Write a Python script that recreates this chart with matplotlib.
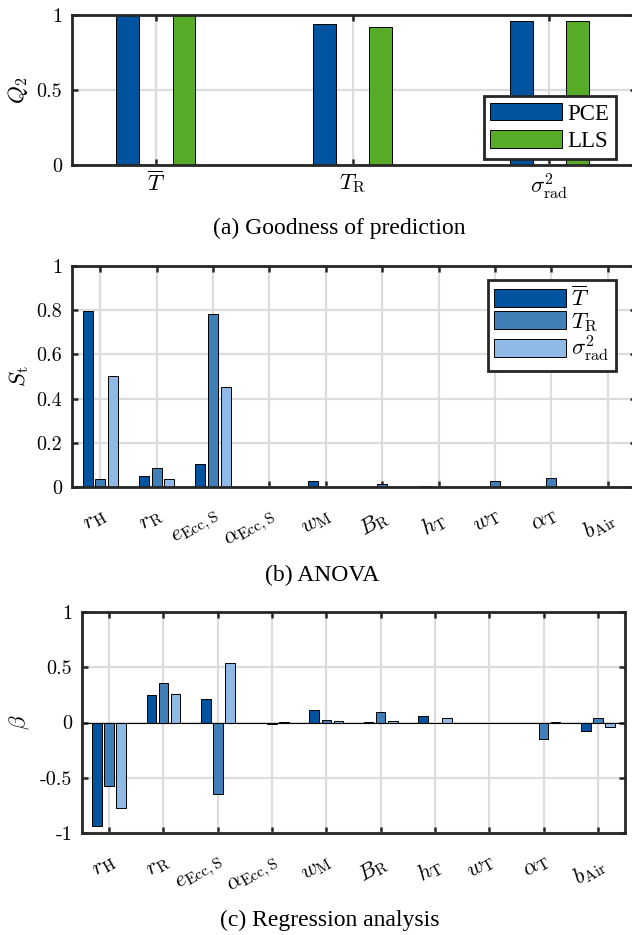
import numpy as np
import matplotlib
matplotlib.use('Agg')
import matplotlib.pyplot as plt
from matplotlib.transforms import ScaledTranslation

plt.rcParams['font.family'] = 'Liberation Serif'
plt.rcParams['mathtext.fontset'] = 'cm'

# (a) goodness of prediction
outputs = [r'$\overline{T}$', r'$T_\mathrm{R}$', r'$\sigma^2_\mathrm{rad}$']
q2_pce = [0.998, 0.940, 0.960]
q2_lls = [0.998, 0.922, 0.958]

# (b)/(c) input parameters
params = [r'$r_\mathrm{H}$', r'$r_\mathrm{R}$', r'$e_\mathrm{Ecc,S}$', r'$\alpha_\mathrm{Ecc,S}$',
          r'$w_\mathrm{M}$', r'$B_\mathrm{R}$', r'$h_\mathrm{T}$', r'$w_\mathrm{T}$',
          r'$\alpha_\mathrm{T}$', r'$b_\mathrm{Air}$']
out_labels = [r'$\overline{T}$', r'$T_\mathrm{R}$', r'$\sigma^2_\mathrm{rad}$']

# total Sobol indices
st_T = [0.795, 0.051, 0.106, 0.0, 0.029, 0.002, 0.004, 0.001, 0.001, 0.002]
st_TR = [0.038, 0.088, 0.785, 0.0, 0.001, 0.015, 0.0, 0.025, 0.040, 0.0]
st_sig = [0.502, 0.035, 0.453, 0.0, 0.0, 0.0, 0.0, 0.0, 0.0, 0.0]

# regression coefficients
beta_T = [-0.933, 0.245, 0.209, -0.003, 0.109, 0.009, 0.055, -0.003, -0.003, -0.076]
beta_TR = [-0.576, 0.360, -0.645, -0.018, 0.027, 0.097, -0.003, -0.003, -0.152, 0.042]
beta_sig = [-0.776, 0.255, 0.542, 0.005, 0.018, 0.015, 0.045, -0.003, 0.003, -0.042]

blue = '#00549F'
blue75 = '#407FB7'
blue50 = '#8EBAE5'
green = '#57AB27'
dark = '#262626'
FS = 14.5     # y tick labels
FX = 16.5     # math labels / legend
FC = 17       # captions

W, H = 632, 935
fig = plt.figure(figsize=(W / 100, H / 100), dpi=100)


def box(l, t, r, b):
    return [l / W, 1 - b / H, (r - l) / W, (b - t) / H]


def style(ax, yticks, ylabels):
    for s in ax.spines.values():
        s.set_color(dark)
        s.set_linewidth(2.0)
    ax.tick_params(direction='in', length=4, width=1.8, color=dark,
                   top=True, right=True, labelsize=FS, pad=7)
    ax.tick_params(axis='x', labelsize=FX)
    ax.set_yticks(yticks)
    ax.set_yticklabels(ylabels, fontfamily='cmr10', fontsize=FS)
    ax.grid(True, color='#dcdcdc', linewidth=1.6)
    ax.set_axisbelow(True)


def legend(ax, handles, labels, right, top, spacing):
    leg = ax.legend(handles, labels, loc='upper right',
                    bbox_to_anchor=(right / W, 1 - top / H), bbox_transform=fig.transFigure,
                    fontsize=FX, fancybox=False, framealpha=1, edgecolor=dark,
                    handlelength=3.1, handleheight=0.8, handletextpad=0.25,
                    labelspacing=spacing, borderpad=0.3, borderaxespad=0)
    leg.get_frame().set_linewidth(2.0)


# ---- (a)
ax = fig.add_axes(box(72, 15, 636, 165))
x = np.arange(1, 4)
b1 = ax.bar(x - 0.143, q2_pce, 0.115, color=blue, edgecolor='k', linewidth=0.7)
b2 = ax.bar(x + 0.143, q2_lls, 0.115, color=green, edgecolor='k', linewidth=0.7)
ax.set_xlim(0.574, 3.44)
ax.set_ylim(0, 1)
style(ax, [0, 0.5, 1], ['0', '0.5', '1'])
ax.set_xticks(x)
ax.set_xticklabels(outputs)
ax.tick_params(axis='x', pad=5)
ax.set_ylabel(r'$Q_2$', fontsize=FX, labelpad=5)
legend(ax, [b1, b2], ['PCE', 'LLS'], 616, 96, 0.25)
fig.text(339 / W, 1 - 228 / H, '(a) Goodness of prediction', ha='center', va='center', fontsize=FC)

n = np.arange(1, len(params) + 1)


def rot_labels(ax):
    ax.set_xticks(n)
    ax.set_xticklabels(params, rotation=30, ha='right', va='top', rotation_mode='anchor',
                       fontsize=16)
    off = ScaledTranslation(11 / 100, 0, fig.dpi_scale_trans)
    for lab in ax.get_xticklabels():
        lab.set_transform(lab.get_transform() + off)
    ax.tick_params(axis='x', pad=14)


# ---- (b)
ax = fig.add_axes(box(72, 266, 636, 487))
c1 = ax.bar(n - 0.222, st_T, 0.178, color=blue, edgecolor='k', linewidth=0.7)
c2 = ax.bar(n, st_TR, 0.178, color=blue75, edgecolor='k', linewidth=0.7)
c3 = ax.bar(n + 0.222, st_sig, 0.178, color=blue50, edgecolor='k', linewidth=0.7)
ax.set_xlim(0.5, 10.5)
ax.set_ylim(0, 1)
style(ax, [0, 0.2, 0.4, 0.6, 0.8, 1], ['0', '0.2', '0.4', '0.6', '0.8', '1'])
rot_labels(ax)
ax.set_ylabel(r'$S_\mathrm{t}$', fontsize=FX, labelpad=4)
legend(ax, [c1, c2, c3], out_labels, 616, 280, 0.0)
fig.text(322 / W, 1 - 575 / H, '(b) ANOVA', ha='center', va='center', fontsize=FC)

# ---- (c)
ax = fig.add_axes(box(82, 612, 625, 833))
ax.bar(n - 0.222, beta_T, 0.178, color=blue, edgecolor='k', linewidth=0.7)
ax.bar(n, beta_TR, 0.178, color=blue75, edgecolor='k', linewidth=0.7)
ax.bar(n + 0.222, beta_sig, 0.178, color=blue50, edgecolor='k', linewidth=0.7)
ax.axhline(0, color='k', linewidth=0.8, zorder=1.5)
ax.set_xlim(0.5, 10.5)
ax.set_ylim(-1, 1)
style(ax, [-1, -0.5, 0, 0.5, 1], ['-1', '-0.5', '0', '0.5', '1'])
rot_labels(ax)
ax.set_ylabel(r'$\beta$', fontsize=FX, labelpad=6)
fig.text(330 / W, 1 - 920 / H, '(c) Regression analysis', ha='center', va='center', fontsize=FC)

fig.savefig('out.png', dpi=100)
